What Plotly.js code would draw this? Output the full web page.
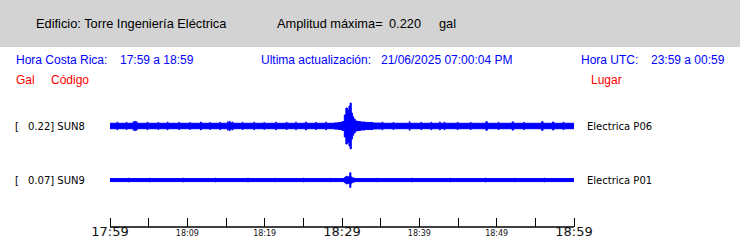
<!DOCTYPE html>
<html>
<head>
<meta charset="utf-8">
<script src="https://cdn.plot.ly/plotly-3.0.1.min.js"></script>
<style>html,body{margin:0;padding:0;background:#fff;}#chart{width:740px;height:241px;}</style>
</head>
<body>
<div id="chart"></div>
<script>
// ---- Data (minutes after 17:59 local, half-amplitude envelope in gal) ----
const stations = ["SUN8", "SUN9"];
const places = ["Electrica P06", "Electrica P01"];
const peakGal = [0.22, 0.07];
const maxAmplitude = 0.220;

const t8 = [0, 0.9, 1.0, 2.1, 2.2, 3.0, 3.1, 3.2, 3.3, 3.4, 3.5, 4.8, 4.9, 6.2, 6.3, 7.4, 7.5, 8.9, 9.0, 10.3, 10.4, 11.7, 11.8, 12.9, 13.0, 14.2, 14.3, 15.2, 15.3, 15.45, 15.55, 15.8, 15.9, 17.1, 17.2, 18.6, 18.7, 19.9, 20.0, 21.4, 21.5, 22.8, 22.9, 24.0, 24.1, 25.3, 25.4, 26.6, 26.7, 27.9, 28.0, 29.0, 29.5, 30.0, 30.3, 30.5, 30.7, 30.9, 31.05, 31.2, 31.35, 31.5, 31.7, 32.0, 32.4, 33.0, 34.0, 35.2, 35.3, 36.6, 36.7, 38.7, 38.8, 40.2, 40.3, 41.5, 41.6, 42.6, 42.7, 43.2, 43.3, 44.9, 45.0, 46.6, 46.7, 48.6, 48.8, 50.2, 50.3, 52.0, 52.2, 53.5, 53.6, 55.8, 56.0, 57.2, 57.4, 58.6, 58.7, 60];
const e8 = [0.026, 0.036, 0.026, 0.035, 0.026, 0.040, 0.030, 0.045, 0.032, 0.040, 0.026, 0.036, 0.026, 0.034, 0.026, 0.037, 0.026, 0.035, 0.026, 0.033, 0.026, 0.038, 0.026, 0.034, 0.026, 0.036, 0.026, 0.040, 0.030, 0.044, 0.030, 0.038, 0.026, 0.035, 0.026, 0.036, 0.026, 0.033, 0.026, 0.037, 0.026, 0.035, 0.026, 0.036, 0.026, 0.038, 0.026, 0.035, 0.026, 0.037, 0.026, 0.030, 0.034, 0.043, 0.106, 0.173, 0.154, 0.192, 0.220, 0.125, 0.090, 0.067, 0.048, 0.043, 0.038, 0.034, 0.028, 0.036, 0.026, 0.034, 0.026, 0.040, 0.026, 0.035, 0.026, 0.036, 0.026, 0.038, 0.026, 0.036, 0.026, 0.035, 0.026, 0.034, 0.026, 0.040, 0.026, 0.035, 0.026, 0.039, 0.026, 0.035, 0.026, 0.040, 0.026, 0.038, 0.026, 0.036, 0.026, 0.026];

const t9 = [0, 2.4, 2.5, 5.1, 5.2, 9.4, 9.5, 13.6, 13.7, 17.8, 17.9, 21.3, 21.4, 25.0, 25.1, 28.4, 28.5, 30.3, 30.5, 30.7, 30.9, 31.0, 31.15, 31.3, 31.6, 34.5, 34.6, 39.0, 39.1, 44.0, 44.1, 48.5, 48.6, 52.3, 52.4, 56.1, 56.2, 60];
const e9 = [0.0145, 0.019, 0.0145, 0.019, 0.0145, 0.019, 0.0145, 0.018, 0.0145, 0.019, 0.0145, 0.018, 0.0145, 0.019, 0.0145, 0.018, 0.0145, 0.024, 0.036, 0.030, 0.036, 0.070, 0.030, 0.020, 0.0145, 0.018, 0.0145, 0.019, 0.0145, 0.018, 0.0145, 0.019, 0.0145, 0.018, 0.0145, 0.019, 0.0145, 0.0145];

const tickMinutes = [0, 5, 10, 15, 20, 25, 30, 35, 40, 45, 50, 55, 60];
const tickLabels = ["17:59", "", "18:09", "", "18:19", "", "18:29", "", "18:39", "", "18:49", "", "18:59"];
const majorLabels = ["17:59", "18:29", "18:59"];

// ---- Layout helpers ----
const W = 740, H = 241, L = 108, R = 576, T = 95, B = 227;
const PAD_MIN = 2 / (464 / 60);   // 2 px of padding so end ticks stay visible
const xp = px => (px - L) / (R - L);
const yp = py => (B - py) / (B - T);
const offsets = [0, -0.52];
const BLUE = "#0000ff";

const series = [[t8, e8], [t9, e9]];
const traces = [];
series.forEach(([t, e], i) => {
  const off = offsets[i];
  traces.push({x: t, y: e.map(v => off + v), mode: "lines", line: {shape: "hv", color: BLUE, width: 1}, hoverinfo: "skip", showlegend: false});
  traces.push({x: t, y: e.map(v => off - v), mode: "lines", line: {shape: "hv", color: BLUE, width: 1}, fill: "tonexty", fillcolor: BLUE, hoverinfo: "skip", showlegend: false});
});

const ann = [];
function txt(text, px, py, size, color, family, anchor) {
  ann.push({text: text, x: xp(px), y: yp(py), xref: "paper", yref: "paper", xanchor: anchor || "left", yanchor: "middle", showarrow: false,
            font: {size: size, color: color, family: family}});
}
const NARROW = "'Liberation Sans Narrow', 'Arial Narrow', 'Liberation Sans', sans-serif";
const SANS = "'Liberation Sans', Arial, sans-serif";
const DJ = "'DejaVu Sans', sans-serif";
txt("Edificio: Torre Ingeniería Eléctrica", 34, 23, 12.8, "#000", NARROW);
txt("Amplitud máxima=", 275, 23, 12.8, "#000", NARROW);
txt(maxAmplitude.toFixed(3), 387, 23, 12.8, "#000", NARROW);
txt("gal", 437, 23, 12.8, "#000", NARROW);
txt("Hora Costa Rica:", 14, 60, 12, BLUE, SANS);
txt("17:59 a 18:59", 118, 60, 12, BLUE, SANS);
txt("Ultima actualización:", 259, 60, 12, BLUE, SANS);
txt("21/06/2025 07:00:04 PM", 379, 60, 12, BLUE, SANS);
txt("Hora UTC:", 579, 60, 12, BLUE, SANS);
txt("23:59 a 00:59", 649, 60, 12, BLUE, SANS);
txt("Gal", 14, 80, 12, "#ff0000", SANS);
txt("Código", 49, 80, 12, "#ff0000", SANS);
txt("Lugar", 589, 80, 12, "#ff0000", SANS);
const rowY = [126, 180];
stations.forEach((s, i) => {
  txt("[", 13, rowY[i], 10, "#000", DJ);
  txt(peakGal[i].toFixed(2) + "] " + s, 26, rowY[i], 10, "#000", DJ);
  txt(places[i], 585, rowY[i], 10, "#000", DJ);
});

const tickText = tickLabels.map(s => majorLabels.includes(s) ? '<span style="font-size:13px">' + s + '</span>' : s);

const layout = {
  width: W, height: H,
  margin: {l: L, r: W - R, t: T, b: H - B, pad: 0},
  paper_bgcolor: "#ffffff", plot_bgcolor: "rgba(0,0,0,0)",
  xaxis: {range: [-PAD_MIN, 60 + PAD_MIN], showgrid: false, zeroline: false, showline: false,
          ticks: "inside", ticklen: 9, tickwidth: 1, tickcolor: "#000", tickvals: tickMinutes, ticktext: tickText,
          tickfont: {family: DJ, size: 8, color: "#111"}, fixedrange: true},
  yaxis: {range: [-0.971, 0.298], visible: false, fixedrange: true},
  shapes: [
    {type: "rect", xref: "paper", yref: "paper", x0: xp(0), x1: xp(W), y0: yp(47), y1: yp(0), fillcolor: "#d3d3d3", line: {width: 0}, layer: "below"},
    {type: "line", xref: "x", yref: "paper", x0: tickMinutes[0], x1: tickMinutes[tickMinutes.length - 1], y0: 0, y1: 0, line: {color: "#000", width: 1.5}}
  ],
  annotations: ann
};
Plotly.newPlot("chart", traces, layout, {staticPlot: true, displayModeBar: false});
</script>
</body>
</html>
